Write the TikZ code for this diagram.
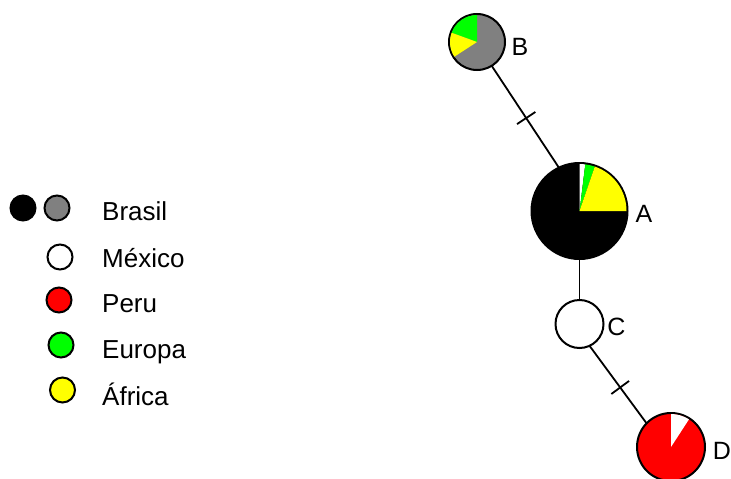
\documentclass[tikz,border=0pt]{standalone}
\usepackage{fontspec}
\setmainfont{Liberation Sans}
\usetikzlibrary{backgrounds}
\definecolor{hgreen}{RGB}{0,255,0}
\definecolor{hyellow}{RGB}{255,255,0}
\definecolor{hred}{RGB}{255,0,0}
\definecolor{hgray}{RGB}{128,128,128}
% filled wedge: node, start angle, end angle, radius, colour
\newcommand{\wedgefill}[5]{\fill[#5] (#1.center) -- ([shift={(#2:#4)}]#1.center) arc[start angle=#2, end angle=#3, radius=#4] -- cycle;}
\begin{document}
\begin{tikzpicture}[x=1pt,y=1pt,
  hap/.style={circle, draw=black, line width=2pt, inner sep=0pt, outer sep=0pt},
  link/.style={line width=1.8pt},
  tickmark/.style={sloped, draw, line width=1.8pt, rectangle, minimum width=0pt, minimum height=22pt, inner sep=0pt},
  lbl/.style={font=\fontsize{25}{30}\selectfont, inner sep=0pt},
  key/.style={circle, draw=black, line width=2pt, minimum size=25pt, inner sep=0pt},
  keytext/.style={font=\fontsize{26}{31}\selectfont, anchor=base west, inner sep=0pt}]
\useasboundingbox (0,0) rectangle (731,-479);

% haplotype circles
\node[hap, fill=hgray, minimum size=56pt] (B) at (477,-42) {};
\node[hap, fill=black, minimum size=96pt] (A) at (579.5,-211) {};
\node[hap, fill=white, minimum size=48pt] (C) at (579.5,-324) {};
\node[hap, fill=hred, minimum size=68pt] (D) at (671,-447) {};

% pie wedges
\wedgefill{B}{90}{160}{27}{hgreen}
\wedgefill{B}{160}{213}{27}{hyellow}
\wedgefill{A}{83}{90}{47}{white}
\wedgefill{A}{71}{83}{47}{hgreen}
\wedgefill{A}{0}{71}{47}{hyellow}
\wedgefill{D}{57}{90}{33}{white}

% connections with mutation ticks
\begin{scope}[on background layer]
\draw[link] ([xshift=-1pt]B.center) -- node[pos=0.45, tickmark] (t1) {} ([xshift=8pt]A.center);
\draw[link] (A.center) -- (C.center);
\draw[link] ([xshift=-6pt]C.center) -- node[pos=0.516, tickmark] (t2) {} ([xshift=-7pt]D.center);
\end{scope}

% haplotype labels
\node[lbl] (lB) at ([shift={(43,-4.5)}]B.center) {B};
\node[lbl] (lA) at ([shift={(64.5,-2.5)}]A.center) {A};
\node[lbl] (lC) at ([shift={(37,-2.5)}]C.center) {C};
\node[lbl] (lD) at ([shift={(51,-3.5)}]D.center) {D};

% legend
\node[key, fill=black] (kb1) at (23,-208) {};
\node[key, fill=hgray] (kb2) at (57,-208) {};
\node[key, fill=white] (km) at (60,-257) {};
\node[key, fill=hred] (kp) at (59,-300) {};
\node[key, fill=hgreen] (ke) at (61,-345) {};
\node[key, fill=hyellow] (ka) at (62.5,-390) {};
\node[keytext] (tb) at (102,-220) {Brasil};
\node[keytext] (tm) at (102,-267) {México};
\node[keytext] (tp) at (102,-312) {Peru};
\node[keytext] (te) at (102,-358) {Europa};
\node[keytext] (ta) at (102,-405) {África};
\end{tikzpicture}
\end{document}
